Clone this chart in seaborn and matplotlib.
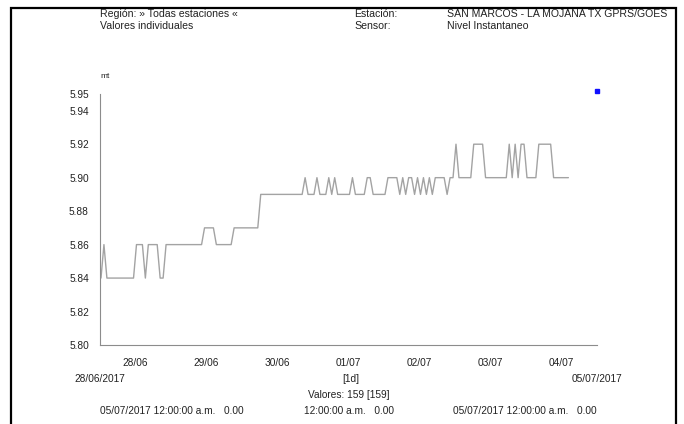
import matplotlib
matplotlib.use("Agg")
import matplotlib.pyplot as plt
import matplotlib.dates as mdates
import matplotlib.ticker as mticker
from matplotlib.patches import Rectangle
import pandas as pd
import seaborn as sns

# hourly "Nivel Instantaneo" readings in mt, one row per day (28/06 .. 04/07)
nivel = [
    5.84, 5.86, 5.84, 5.84, 5.84, 5.84, 5.84, 5.84, 5.84, 5.84, 5.84, 5.84,
    5.86, 5.86, 5.86, 5.84, 5.86, 5.86, 5.86, 5.86, 5.84, 5.84, 5.86, 5.86,
    5.86, 5.86, 5.86, 5.86, 5.86, 5.86, 5.86, 5.86, 5.86, 5.86, 5.86, 5.87,
    5.87, 5.87, 5.87, 5.86, 5.86, 5.86, 5.86, 5.86, 5.86, 5.87, 5.87, 5.87,
    5.87, 5.87, 5.87, 5.87, 5.87, 5.87, 5.89, 5.89, 5.89, 5.89, 5.89, 5.89,
    5.89, 5.89, 5.89, 5.89, 5.89, 5.89, 5.89, 5.89, 5.89, 5.90, 5.89, 5.89,
    5.89, 5.90, 5.89, 5.89, 5.89, 5.90, 5.89, 5.90, 5.89, 5.89, 5.89, 5.89,
    5.89, 5.90, 5.89, 5.89, 5.89, 5.89, 5.90, 5.90, 5.89, 5.89, 5.89, 5.89,
    5.89, 5.90, 5.90, 5.90, 5.90, 5.89, 5.90, 5.89, 5.90, 5.90, 5.89, 5.90,
    5.89, 5.90, 5.89, 5.90, 5.89, 5.90, 5.90, 5.90, 5.90, 5.89, 5.90, 5.90,
    5.92, 5.90, 5.90, 5.90, 5.90, 5.90, 5.92, 5.92, 5.92, 5.92, 5.90, 5.90,
    5.90, 5.90, 5.90, 5.90, 5.90, 5.90, 5.92, 5.90, 5.92, 5.90, 5.92, 5.92,
    5.90, 5.90, 5.90, 5.90, 5.92, 5.92, 5.92, 5.92, 5.92, 5.90, 5.90, 5.90,
    5.90, 5.90, 5.90,
]
start_time = "2017-06-28 00:20"
range_start = "2017-06-28"
range_end = "2017-07-05"
y_ticks = [5.80, 5.82, 5.84, 5.86, 5.88, 5.90, 5.92, 5.94, 5.95]
marker_time = "2017-07-04 23:50"
marker_value = 5.952

df = pd.DataFrame({
    "fecha": pd.date_range(start_time, periods=len(nivel), freq="h"),
    "nivel": nivel,
})

sns.set_style("white")
plt.rcParams["font.family"] = ["Liberation Sans", "DejaVu Sans"]
txt = "#222222"
grey = "#8c8c8c"

W, H = 684, 424
fig = plt.figure(figsize=(W / 100, H / 100), dpi=100)
ax = fig.add_axes([100 / W, 1 - 345 / H, 497 / W, 251 / H])

sns.lineplot(data=df, x="fecha", y="nivel", color="#a3a3a3", linewidth=1.0, ax=ax)
ax.plot(pd.Timestamp(marker_time), marker_value, marker="s", markersize=2.6,
        color="#1010ff", clip_on=False, linestyle="none")

ax.set_xlim(pd.Timestamp(range_start), pd.Timestamp(range_end))
ax.set_ylim(y_ticks[0], y_ticks[-1])
ax.set_xlabel("")
ax.set_ylabel("")

fs = 7.3
ax.xaxis.set_major_locator(mdates.DayLocator())
ax.xaxis.set_major_formatter(mticker.NullFormatter())
ax.xaxis.set_minor_locator(mdates.HourLocator(byhour=12))
ax.xaxis.set_minor_formatter(mdates.DateFormatter("%d/%m"))
ax.tick_params(axis="x", which="major", length=6, width=0.8, color=grey, direction="out")
ax.tick_params(axis="x", which="minor", length=0, pad=9, labelsize=fs, labelcolor=txt)

ax.set_yticks(y_ticks)
ax.yaxis.set_major_formatter(mticker.FormatStrFormatter("%.2f"))
ax.tick_params(axis="y", length=5, width=0.8, color=grey, direction="out",
               pad=3, labelsize=fs, labelcolor=txt)

for side in ["top", "right"]:
    ax.spines[side].set_visible(False)
for side in ["left", "bottom"]:
    ax.spines[side].set_color(grey)
    ax.spines[side].set_linewidth(0.8)

# header
hs = 7.6
fig.text(100 / W, 1 - 14 / H, "Región: » Todas estaciones «", fontsize=hs, color=txt, va="center")
fig.text(100 / W, 1 - 26 / H, "Valores individuales", fontsize=hs, color=txt, va="center")
fig.text(354 / W, 1 - 14 / H, "Estación:", fontsize=hs, color=txt, va="center")
fig.text(354 / W, 1 - 26 / H, "Sensor:", fontsize=hs, color=txt, va="center")
fig.text(447 / W, 1 - 14 / H, "SAN MARCOS - LA MOJANA TX GPRS/GOES", fontsize=hs, color=txt, va="center")
fig.text(447 / W, 1 - 26 / H, "Nivel Instantaneo", fontsize=hs, color=txt, va="center")
fig.text(100 / W, 1 - 77 / H, "mt", fontsize=6.0, color=txt, va="center")

# footer
fig.text(100 / W, 1 - 379 / H, "28/06/2017", fontsize=fs, color=txt, ha="center", va="center")
fig.text(597 / W, 1 - 379 / H, "05/07/2017", fontsize=fs, color=txt, ha="center", va="center")
fig.text(351 / W, 1 - 379 / H, "[1d]", fontsize=fs, color=txt, ha="center", va="center")
fig.text(349 / W, 1 - 395 / H, "Valores: 159 [159]", fontsize=fs, color=txt, ha="center", va="center")
fig.text(100 / W, 1 - 411 / H, "05/07/2017 12:00:00 a.m.   0.00", fontsize=fs, color=txt, va="center")
fig.text(349 / W, 1 - 411 / H, "12:00:00 a.m.   0.00", fontsize=fs, color=txt, ha="center", va="center")
fig.text(597 / W, 1 - 411 / H, "05/07/2017 12:00:00 a.m.   0.00", fontsize=fs, color=txt, ha="right", va="center")

# outer frame
fig.add_artist(Rectangle((11 / W, -0.05), 665 / W, 1.05 - 8 / H, transform=fig.transFigure,
                         fill=False, edgecolor="black", linewidth=1.6))

fig.savefig("out.png", dpi=100)
